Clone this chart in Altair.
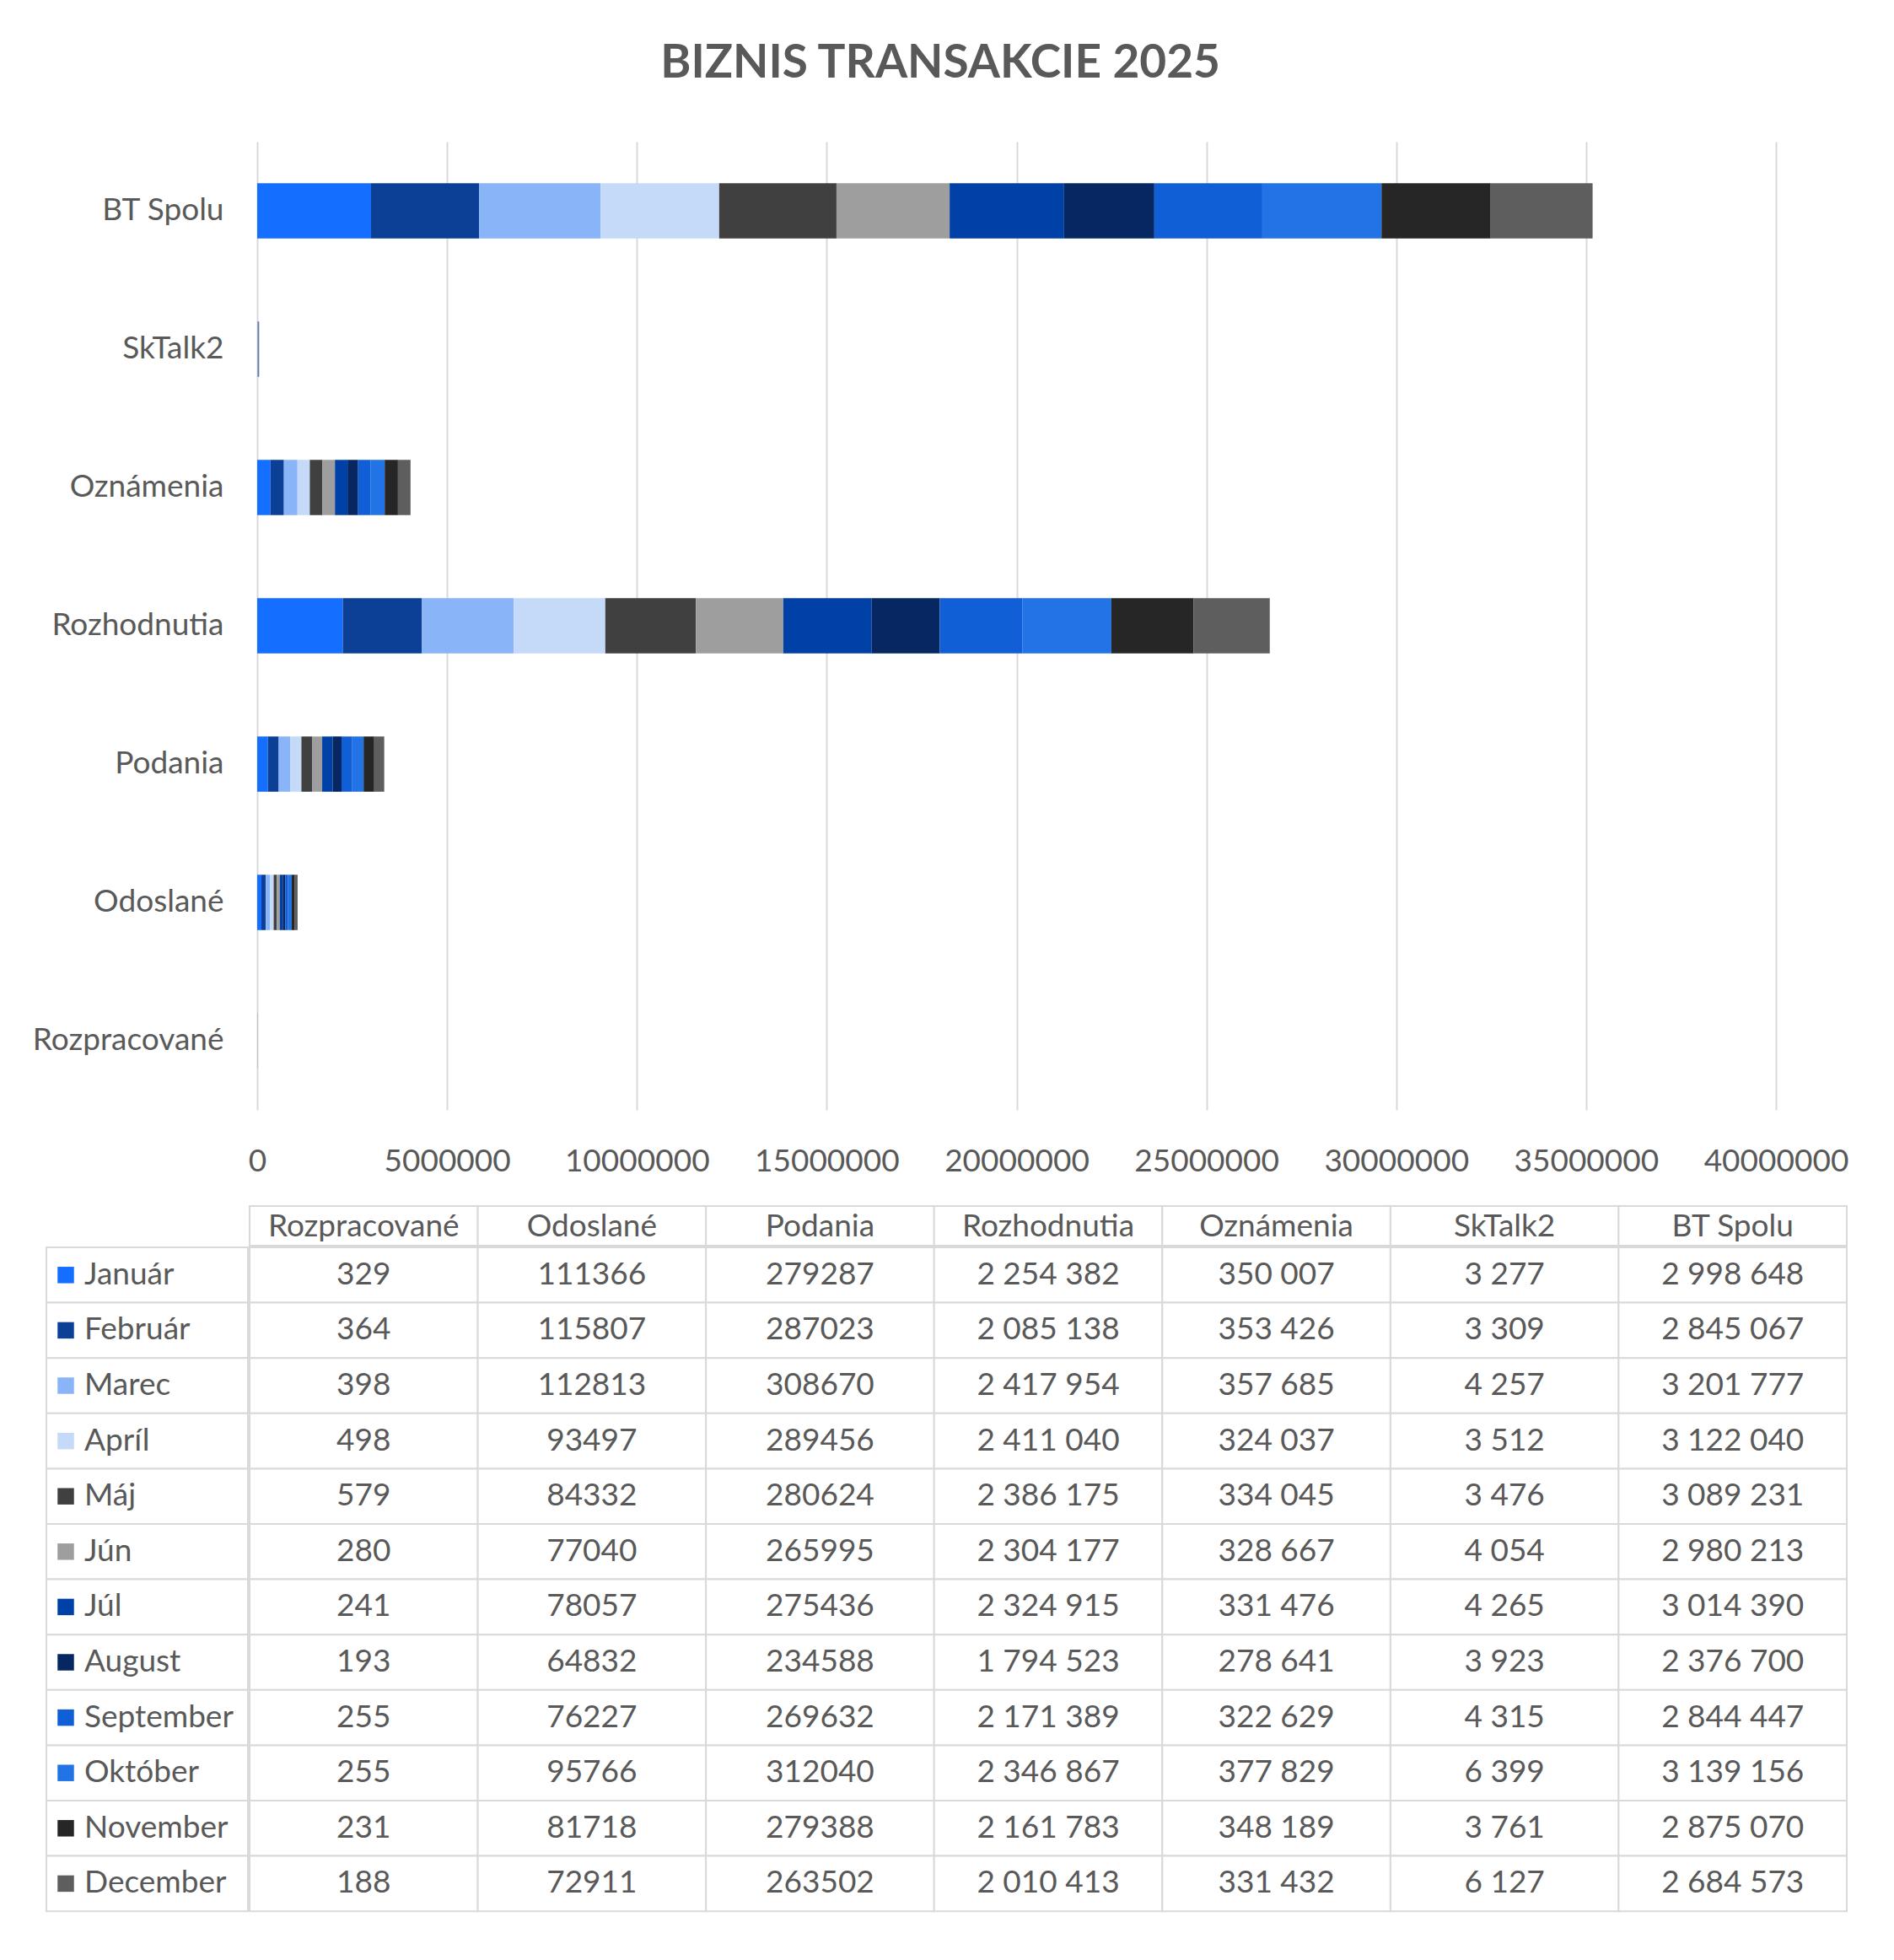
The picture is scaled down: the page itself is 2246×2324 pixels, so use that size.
import altair as alt
import pandas as pd

months = ["Január", "Február", "Marec", "Apríl", "Máj", "Jún", "Júl",
          "August", "September", "Október", "November", "December"]
colors = ["#146EFF", "#0B4096", "#8AB4F8", "#C5D9F8", "#404040", "#9E9E9E",
          "#0041A8", "#062761", "#115FD6", "#2273E6", "#262626", "#5E5E5E"]

columns = ["Rozpracované", "Odoslané", "Podania", "Rozhodnutia",
           "Oznámenia", "SkTalk2", "BT Spolu"]

rozpracovane = [329, 364, 398, 498, 579, 280, 241, 193, 255, 255, 231, 188]
odoslane = [111366, 115807, 112813, 93497, 84332, 77040, 78057, 64832, 76227, 95766, 81718, 72911]
podania = [279287, 287023, 308670, 289456, 280624, 265995, 275436, 234588, 269632, 312040, 279388, 263502]
rozhodnutia = [2254382, 2085138, 2417954, 2411040, 2386175, 2304177, 2324915, 1794523, 2171389, 2346867, 2161783, 2010413]
oznamenia = [350007, 353426, 357685, 324037, 334045, 328667, 331476, 278641, 322629, 377829, 348189, 331432]
sktalk2 = [3277, 3309, 4257, 3512, 3476, 4054, 4265, 3923, 4315, 6399, 3761, 6127]
bt_spolu = [2998648, 2845067, 3201777, 3122040, 3089231, 2980213, 3014390, 2376700, 2844447, 3139156, 2875070, 2684573]

series = [rozpracovane, odoslane, podania, rozhodnutia, oznamenia, sktalk2, bt_spolu]
grouped = [False, False, False, True, True, True, True]  # space thousands separator

x_ticks = [0, 5000000, 10000000, 15000000, 20000000, 25000000, 30000000, 35000000, 40000000]

bar_order = list(reversed(columns))

FONT = "Lato"
TXT = "#595959"
GRID = "#D9D9D9"
FS = 37

def fmt(v, g):
    if g:
        return f"{v:,}".replace(",", " ")
    return str(v)

rows = []
for c, vals, g in zip(columns, series, grouped):
    for i, (m, v) in enumerate(zip(months, vals)):
        rows.append({"cat": c, "month": m, "idx": i, "value": v, "label": fmt(v, g)})
df = pd.DataFrame(rows)

color_scale = alt.Scale(domain=months, range=colors)

W = 2135
LEG_W = 241
DATA_W = W - LEG_W
ROW_H = 65.6
HDR_H = 49
BODY_H = ROW_H * 12

bar = alt.Chart(df).mark_bar().encode(
    y=alt.Y("cat:N", sort=bar_order, title=None,
            scale=alt.Scale(paddingInner=0.6, paddingOuter=0.3),
            axis=alt.Axis(offset=-251, ticks=False, domain=False, labelPadding=40, labelLimit=0,
                          labelFont=FONT, labelFontSize=FS, labelColor=TXT, grid=False)),
    x=alt.X("value:Q", stack="zero", title=None,
            scale=alt.Scale(domain=[0, 40000000], range=[251, 2052], nice=False),
            axis=alt.Axis(values=x_ticks, format="d", grid=True, gridColor=GRID, gridWidth=2,
                          domain=False, ticks=False, labelPadding=43, labelFont=FONT,
                          labelOverlap=False, labelFlush=False, labelFontSize=FS, labelColor=TXT)),
    color=alt.Color("month:N", scale=color_scale, legend=None),
    order=alt.Order("idx:Q", sort="ascending"),
).properties(width=W, height=1148)

ymonth = alt.Y("month:N", sort=months, axis=None,
               scale=alt.Scale(paddingInner=0, paddingOuter=0))
dfm = pd.DataFrame({"month": months})

legend_body = alt.layer(
    alt.Chart(dfm).mark_rect(fill="white", stroke=GRID, strokeWidth=2).encode(
        y=ymonth, x=alt.value(1), x2=alt.value(LEG_W - 1)),
    alt.Chart(dfm).mark_square(size=380, opacity=1).encode(
        y=ymonth, x=alt.value(24),
        color=alt.Color("month:N", scale=color_scale, legend=None)),
    alt.Chart(dfm).mark_text(align="left", baseline="middle", font=FONT, fontSize=FS, color=TXT).encode(
        y=ymonth, x=alt.value(46), text="month:N"),
).properties(width=LEG_W, height=BODY_H)

blank = alt.Chart(dfm).mark_rect(opacity=0).encode(
    x=alt.value(1), x2=alt.value(LEG_W - 1), y=alt.value(1), y2=alt.value(HDR_H - 1)
).properties(width=LEG_W, height=HDR_H)

xcol = alt.X("cat:N", sort=columns, axis=None,
             scale=alt.Scale(paddingInner=0, paddingOuter=0))
dfc = pd.DataFrame({"cat": columns})

header = alt.layer(
    alt.Chart(dfc).mark_rect(fill="white", stroke=GRID, strokeWidth=2).encode(
        x=xcol, y=alt.value(1), y2=alt.value(HDR_H - 1)),
    alt.Chart(dfc).mark_text(baseline="middle", font=FONT, fontSize=FS, color=TXT).encode(
        x=xcol, y=alt.value(HDR_H / 2 + 1), text="cat:N"),
).properties(width=DATA_W, height=HDR_H)

body = alt.layer(
    alt.Chart(df).mark_rect(fill="white", stroke=GRID, strokeWidth=2).encode(
        x=xcol, y=ymonth),
    alt.Chart(df).mark_text(baseline="middle", font=FONT, fontSize=FS, color=TXT).encode(
        x=xcol, y=ymonth, text="label:N"),
).properties(width=DATA_W, height=BODY_H)

left_col = alt.vconcat(blank, legend_body, spacing=0).resolve_scale(x="independent", y="independent")
right_col = alt.vconcat(header, body, spacing=0).resolve_scale(x="independent", y="independent")
table = alt.hconcat(left_col, right_col, spacing=0).resolve_scale(x="independent", y="independent")

chart = alt.vconcat(bar, table, spacing=34).resolve_scale(
    x="independent", y="independent", color="shared"
).properties(
    title=alt.TitleParams("BIZNIS TRANSAKCIE 2025", font=FONT, fontSize=55, fontWeight="bold",
                          color=TXT, anchor="middle", offset=64),
    padding={"left": 30, "top": 40, "right": 20, "bottom": 20},
    background="white",
).configure_view(strokeWidth=0, stroke="transparent")

chart.save("out.html", embed_options={"renderer": "svg", "actions": False})
